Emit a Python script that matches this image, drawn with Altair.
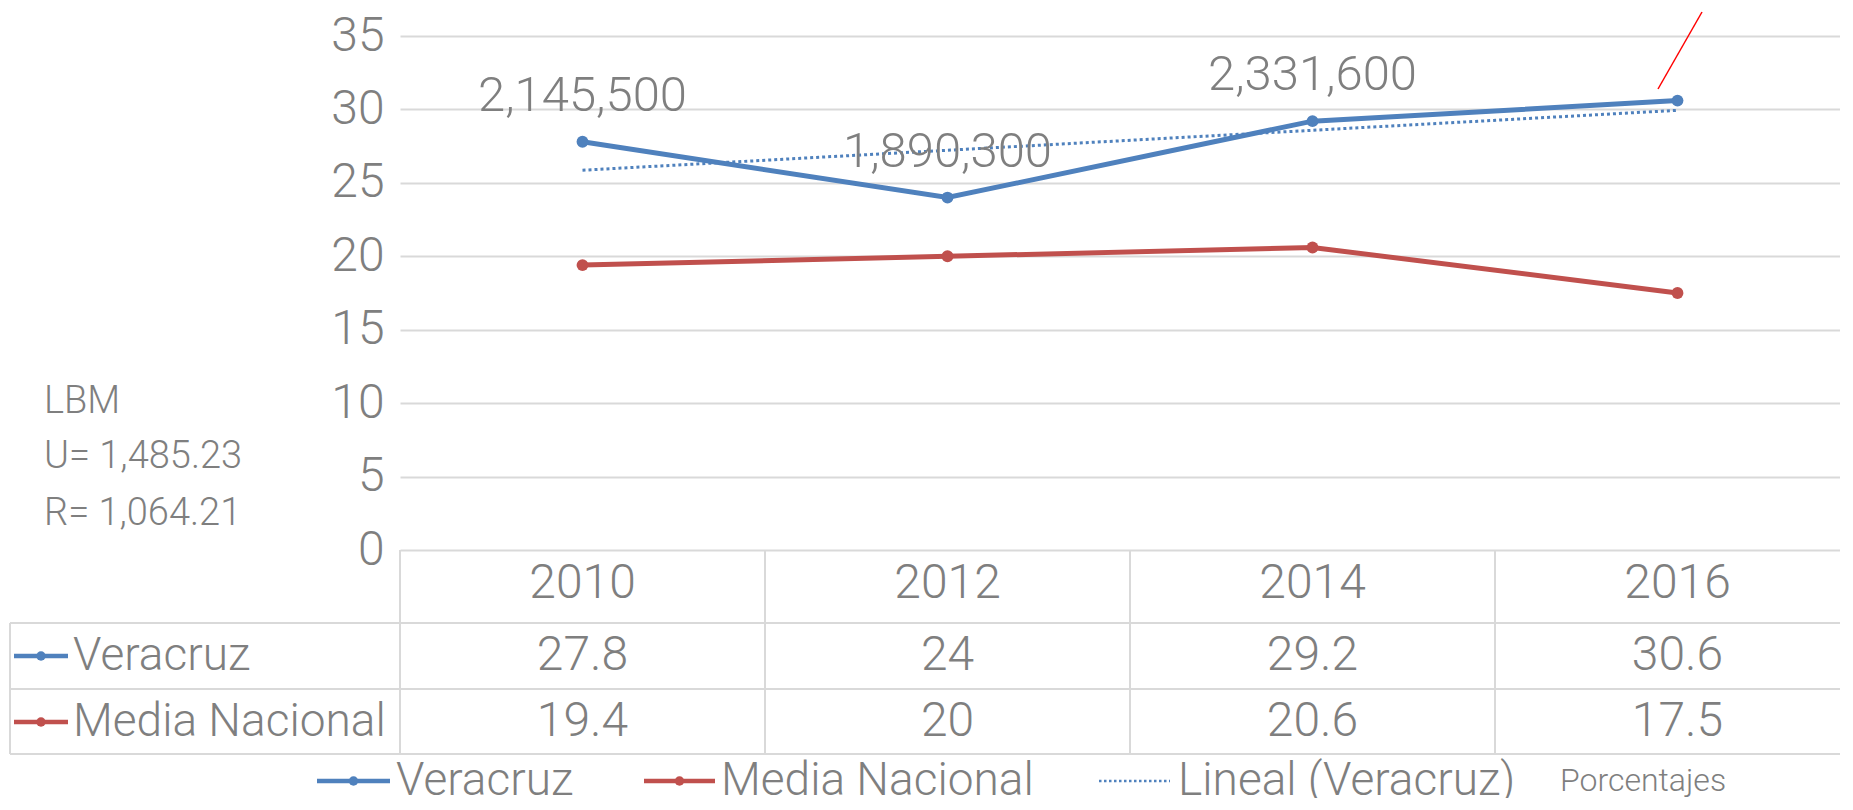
import altair as alt
import pandas as pd

# ---- data ----
years = [2010, 2012, 2014, 2016]
veracruz = [27.8, 24, 29.2, 30.6]
media_nacional = [19.4, 20, 20.6, 17.5]
label_years = [2010, 2012, 2014]
data_labels = ["2,145,500", "1,890,300", "2,331,600"]
series_names = ["Veracruz", "Media Nacional"]
trend_name = "Lineal (Veracruz)"
y_ticks = [0, 5, 10, 15, 20, 25, 30, 35]
column_dividers = [2009, 2011, 2013, 2015]
lbm_lines = ["LBM", "U= 1,485.23", "R= 1,064.21"]
units_note = "Porcentajes"

BLUE = "#4F81BD"
RED = "#C0504D"
GRAY = "#7F7F7F"
GRID = "#D9D9D9"
FONT = "Roboto"
FW = 300

W, H = 1460, 514

long_df = pd.DataFrame({
    "year": years * 2,
    "value": veracruz + media_nacional,
    "series": [series_names[0]] * len(years) + [series_names[1]] * len(years),
})
vera_df = pd.DataFrame({"year": years, "value": veracruz})
lbl_df = pd.DataFrame({
    "year": label_years,
    "value": [veracruz[years.index(y)] for y in label_years],
    "label": data_labels,
})
head_df = pd.DataFrame({"year": years, "txt": [str(y) for y in years]})
vrow_df = pd.DataFrame({"year": years, "txt": [f"{v:g}" for v in veracruz]})
mrow_df = pd.DataFrame({"year": years, "txt": [f"{v:g}" for v in media_nacional]})
div_df = pd.DataFrame({"x": column_dividers})

xscale = alt.Scale(domain=[2009, 2017])
yscale = alt.Scale(domain=[0, 35])
X = alt.X("year:Q", scale=xscale, axis=None)
Y = alt.Y("value:Q", scale=yscale,
          axis=alt.Axis(values=y_ticks, grid=True, gridColor=GRID, gridWidth=2,
                        domain=False, ticks=False, labelFontSize=48, labelFont=FONT,
                        labelFontWeight=FW, labelColor=GRAY, labelPadding=16, title=None))
color = alt.Color("series:N", scale=alt.Scale(domain=series_names, range=[BLUE, RED]), legend=None)

one = pd.DataFrame({"k": [0]})

lines = alt.Chart(long_df).mark_line(strokeWidth=5).encode(x=X, y=Y, color=color, detail="series:N")
points = alt.Chart(long_df).mark_circle(size=140, opacity=1).encode(x=X, y=Y, color=color)
trend = alt.Chart(vera_df).transform_regression(
    "year", "value", method="linear", extent=[2010, 2016]
).mark_line(color=BLUE, strokeWidth=3, strokeDash=[3, 3]).encode(x=X, y=Y)

labels = alt.Chart(lbl_df).mark_text(fontSize=49, font=FONT, fontWeight=FW, color=GRAY, dy=-46,
                                     baseline="middle").encode(x=X, y=Y, text="label:N")

leader = alt.Chart(one).mark_rule(color="#FF0000", strokeWidth=1.5).encode(
    x=alt.value(1258), y=alt.value(53), x2=alt.value(1302), y2=alt.value(-24))

# ---- data table under the plot ----
def row_text(df, ypix):
    return alt.Chart(df).mark_text(fontSize=48, font=FONT, fontWeight=FW, color=GRAY, baseline="middle").encode(
        x=X, y=alt.value(ypix), text="txt:N")

vdiv = alt.Chart(div_df).mark_rule(color=GRID, strokeWidth=2).encode(
    x=alt.X("x:Q", scale=xscale, axis=None), y=alt.value(H), y2=alt.value(718))
hlines = [alt.Chart(one).mark_rule(color=GRID, strokeWidth=2).encode(
    x=alt.value(-390), x2=alt.value(W + 40), y=alt.value(yy)) for yy in (587, 653, 718)]
left_border = alt.Chart(one).mark_rule(color=GRID, strokeWidth=2).encode(
    x=alt.value(-390), y=alt.value(587), y2=alt.value(718))


def legend_item(name, col, x0, x1, ypix, tx, size, dotted=False):
    d = pd.DataFrame({"name": [name]})
    if dotted:
        sym = alt.Chart(d).mark_rule(color=col, strokeWidth=2.5, strokeDash=[2.5, 2.5]).encode(
            x=alt.value(x0), x2=alt.value(x1), y=alt.value(ypix))
        parts = [sym]
    else:
        sym = alt.Chart(d).mark_rule(color=col, strokeWidth=4.5).encode(
            x=alt.value(x0), x2=alt.value(x1), y=alt.value(ypix))
        dot = alt.Chart(d).mark_circle(color=col, size=90, opacity=1).encode(
            x=alt.value((x0 + x1) / 2), y=alt.value(ypix))
        parts = [sym, dot]
    txt = alt.Chart(d).mark_text(fontSize=size, font=FONT, fontWeight=FW, color=GRAY, align="left",
                                 baseline="middle").encode(x=alt.value(tx), y=alt.value(ypix), text="name:N")
    return parts + [txt]

row_legends = (legend_item(series_names[0], BLUE, -386, -332, 620, -327, 46)
               + legend_item(series_names[1], RED, -386, -332, 686, -327, 46))
LY = 745
bottom_legend = (legend_item(series_names[0], BLUE, -83, -10, LY, -4, 46)
                 + legend_item(series_names[1], RED, 244, 315, LY, 321, 46)
                 + legend_item(trend_name, BLUE, 699, 770, LY, 778, 46, dotted=True))
note = alt.Chart(pd.DataFrame({"t": [units_note]})).mark_text(
    fontSize=32, font=FONT, fontWeight=FW, color=GRAY, align="left", baseline="middle").encode(
    x=alt.value(1160), y=alt.value(LY), text="t:N")

lbm = [alt.Chart(pd.DataFrame({"t": [t]})).mark_text(
    fontSize=38, font=FONT, fontWeight=FW, color=GRAY, align="left", baseline="middle").encode(
    x=alt.value(-356), y=alt.value(yy), text="t:N")
    for t, yy in zip(lbm_lines, (366, 421, 478))]

chart = alt.layer(
    vdiv, *hlines, left_border,
    trend, lines, points, labels, leader,
    row_text(head_df, 548), row_text(vrow_df, 620), row_text(mrow_df, 686),
    *row_legends, *bottom_legend, note, *lbm,
).properties(
    width=W, height=H,
    autosize=alt.AutoSizeParams(type="none"),
    padding={"left": 392, "top": 28, "right": -20, "bottom": 248},
).configure_view(stroke=None)

chart.save("out.html", embed_options={"renderer": "svg", "actions": False})
